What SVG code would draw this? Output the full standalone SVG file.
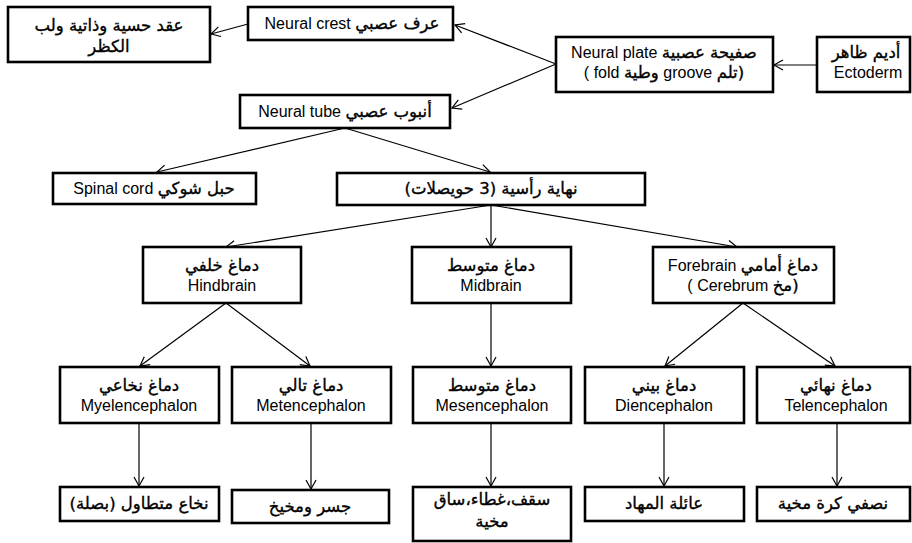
<svg xmlns="http://www.w3.org/2000/svg" width="912" height="543" viewBox="0 0 912 543">
<style>
.box{fill:#fff;stroke:#000;stroke-width:2.6}
.t{font-family:"Liberation Sans","DejaVu Sans",sans-serif;font-size:16px;fill:#000;text-anchor:middle}
.rtl{direction:rtl;unicode-bidi:embed}
.ar{font-family:"DejaVu Sans",sans-serif;font-size:16.5px;stroke:#000;stroke-width:0.35}
.c{stroke:#000;stroke-width:1.2;fill:none;marker-end:url(#ah)}
</style>
<defs>
<marker id="ah" markerUnits="userSpaceOnUse" markerWidth="14" markerHeight="14" viewBox="-11 -7 12 14" refX="0" refY="0" orient="auto">
<path d="M-9,-5 L0,0 L-9,5" fill="none" stroke="#000" stroke-width="1.2"/>
</marker>
</defs>
<rect width="912" height="543" fill="#fff"/>
<g id="connectors">
<line class="c" x1="817" y1="65" x2="774" y2="65"/>
<line class="c" x1="556" y1="64" x2="455" y2="25"/>
<line class="c" x1="556" y1="64" x2="452" y2="108"/>
<line class="c" x1="248" y1="24" x2="211" y2="34"/>
<line class="c" x1="345" y1="128" x2="157" y2="172"/>
<line class="c" x1="345" y1="128" x2="490" y2="172"/>
<line class="c" x1="491" y1="205" x2="226" y2="247"/>
<line class="c" x1="491" y1="205" x2="491" y2="247"/>
<line class="c" x1="491" y1="205" x2="737" y2="247"/>
<line class="c" x1="226" y1="303" x2="140" y2="366"/>
<line class="c" x1="226" y1="303" x2="310" y2="366"/>
<line class="c" x1="491" y1="303" x2="491" y2="366"/>
<line class="c" x1="743" y1="303" x2="665" y2="366"/>
<line class="c" x1="743" y1="303" x2="835" y2="366"/>
<line class="c" x1="139" y1="423" x2="139" y2="486"/>
<line class="c" x1="311" y1="423" x2="311" y2="489"/>
<line class="c" x1="491" y1="423" x2="491" y2="486"/>
<line class="c" x1="664" y1="423" x2="664" y2="486"/>
<line class="c" x1="837" y1="423" x2="837" y2="486"/>
</g>
<g id="ganglia">
<rect class="box" x="8" y="7" width="202" height="55"/>
<text class="t rtl ar" x="109" y="31">عقد حسية وذاتية ولب</text>
<text class="t rtl ar" x="109" y="52">الكظر</text>
</g>
<g id="neural-crest">
<rect class="box" x="248" y="7" width="205" height="33"/>
<text class="t rtl" x="352" y="29"><tspan class="ar">عرف عصبي</tspan> Neural crest</text>
</g>
<g id="neural-plate">
<rect class="box" x="556" y="37" width="217" height="55"/>
<text class="t rtl" x="664" y="58"><tspan class="ar">صفيحة عصبية</tspan> Neural plate</text>
<text class="t rtl" x="664" y="78"><tspan class="ar">(تلم</tspan> groove  <tspan class="ar">وطية</tspan> fold  )</text>
</g>
<g id="ectoderm">
<rect class="box" x="817" y="37" width="93" height="55"/>
<text class="t rtl ar" x="866" y="58">أديم ظاهر</text>
<text class="t" x="868" y="78">Ectoderm</text>
</g>
<g id="neural-tube">
<rect class="box" x="240" y="95" width="210" height="33"/>
<text class="t rtl" x="345" y="117"><tspan class="ar">أنبوب عصبي</tspan> Neural tube</text>
</g>
<g id="spinal-cord">
<rect class="box" x="53" y="173" width="203" height="31"/>
<text class="t rtl" x="154" y="194"><tspan class="ar">حبل شوكي</tspan>  Spinal cord</text>
</g>
<g id="head-end">
<rect class="box" x="337" y="173" width="308" height="32"/>
<text class="t rtl ar" x="491" y="194">نهاية رأسية (3 حويصلات)</text>
</g>
<g id="hindbrain">
<rect class="box" x="143" y="247" width="158" height="56"/>
<text class="t rtl ar" x="222" y="271">دماغ خلفي</text>
<text class="t" x="222" y="291">Hindbrain</text>
</g>
<g id="midbrain">
<rect class="box" x="412" y="247" width="159" height="56"/>
<text class="t rtl ar" x="491" y="271">دماغ متوسط</text>
<text class="t" x="491" y="291">Midbrain</text>
</g>
<g id="forebrain">
<rect class="box" x="653" y="247" width="181" height="56"/>
<text class="t rtl" x="743" y="271"><tspan class="ar">دماغ أمامي</tspan> Forebrain</text>
<text class="t rtl" x="743" y="291"><tspan class="ar">(مخ</tspan>  Cerebrum )</text>
</g>
<g id="myelencephalon">
<rect class="box" x="60" y="367" width="159" height="56"/>
<text class="t rtl ar" x="139" y="391">دماغ نخاعي</text>
<text class="t" x="139" y="411">Myelencephalon</text>
</g>
<g id="metencephalon">
<rect class="box" x="232" y="367" width="159" height="56"/>
<text class="t rtl ar" x="311" y="391">دماغ تالي</text>
<text class="t" x="311" y="411">Metencephalon</text>
</g>
<g id="mesencephalon">
<rect class="box" x="413" y="367" width="158" height="56"/>
<text class="t rtl ar" x="492" y="391">دماغ متوسط</text>
<text class="t" x="492" y="411">Mesencephalon</text>
</g>
<g id="diencephalon">
<rect class="box" x="585" y="367" width="159" height="56"/>
<text class="t rtl ar" x="664" y="391">دماغ بيني</text>
<text class="t" x="664" y="411">Diencephalon</text>
</g>
<g id="telencephalon">
<rect class="box" x="757" y="367" width="153" height="56"/>
<text class="t rtl ar" x="836" y="391">دماغ نهائي</text>
<text class="t" x="836" y="411">Telencephalon</text>
</g>
<g id="medulla">
<rect class="box" x="60" y="487" width="159" height="34"/>
<text class="t rtl ar" x="139" y="509">نخاع متطاول (بصلة)</text>
</g>
<g id="pons">
<rect class="box" x="232" y="490" width="157" height="33"/>
<text class="t rtl ar" x="310" y="512">جسر ومخيخ</text>
</g>
<g id="tectum">
<rect class="box" x="413" y="487" width="158" height="54"/>
<text class="t rtl ar" x="492" y="505">سقف،غطاء،ساق</text>
<text class="t rtl ar" x="492" y="527">مخية</text>
</g>
<g id="thalamus">
<rect class="box" x="585" y="487" width="159" height="34"/>
<text class="t rtl ar" x="664" y="509">عائلة المهاد</text>
</g>
<g id="hemispheres">
<rect class="box" x="757" y="487" width="153" height="34"/>
<text class="t rtl ar" x="833" y="509">نصفي كرة مخية</text>
</g>
</svg>
